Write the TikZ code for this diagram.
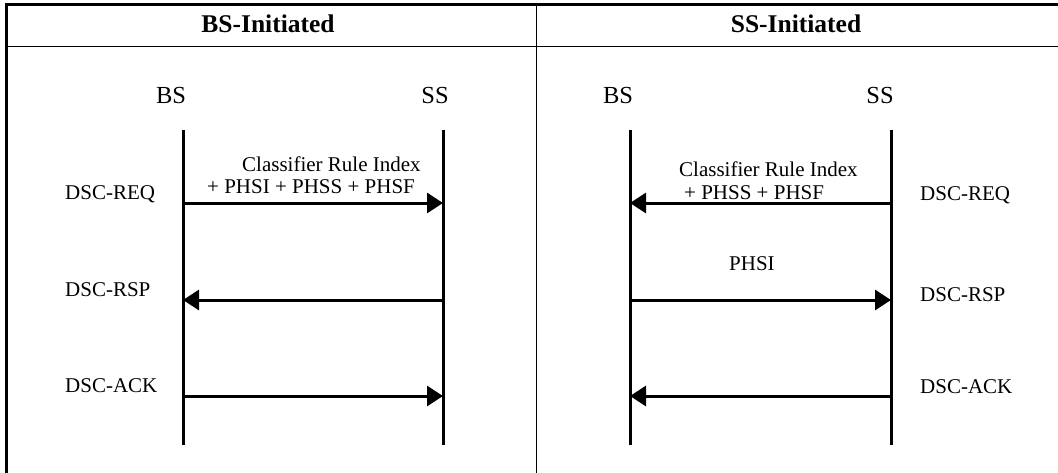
\documentclass[tikz,border=0pt]{standalone}
\usepackage{fontspec}
\setmainfont{Liberation Serif}
\usetikzlibrary{arrows.meta}

\tikzset{
  frame/.style={line width=3pt},
  grid/.style={line width=1pt},
  lifeline/.style={line width=3pt},
  msg/.style={line width=3pt, -{Triangle[length=16pt,width=20pt]}},
  head/.style={inner sep=0pt, anchor=base, font=\fontsize{25.5}{27}\selectfont\bfseries},
  entity/.style={inner sep=0pt, anchor=base, font=\fontsize{24.5}{26}\selectfont},
  lbl/.style={inner sep=0pt, anchor=base west, font=\fontsize{21}{22}\selectfont},
}

\begin{document}
\begin{tikzpicture}[x=1pt, y=-1pt]
\useasboundingbox (0,0) rectangle (1058,472);

% table frame
\draw[frame] (6.5,474) -- (6.5,4.5) -- (1062,4.5);
\draw[grid] (8,46) -- (1060,46);
\draw[grid] (536,6) -- (536,474);

% column headings
\node[head] (hl) at (268,32) {BS-Initiated};
\node[head] (hr) at (796,32) {SS-Initiated};

% lifeline end points
\coordinate (lbsT) at (183,130);  \coordinate (lbsB) at (183,445);
\coordinate (lssT) at (443,130);  \coordinate (lssB) at (443,445);
\coordinate (rbsT) at (630,130);  \coordinate (rbsB) at (630,445);
\coordinate (rssT) at (891,130);  \coordinate (rssB) at (891,445);

% entity names
\node[entity] (lbs) at (171,103) {BS};
\node[entity] (lss) at (435,103) {SS};
\node[entity] (rbs) at (618,103) {BS};
\node[entity] (rss) at (880,103) {SS};

% lifelines
\draw[lifeline] (lbsT) -- (lbsB);
\draw[lifeline] (lssT) -- (lssB);
\draw[lifeline] (rbsT) -- (rbsB);
\draw[lifeline] (rssT) -- (rssB);

% message anchor points
\coordinate (lbs1) at (lbsT |- 0,203); \coordinate (lss1) at (lssT |- 0,203);
\coordinate (lbs2) at (lbsT |- 0,300); \coordinate (lss2) at (lssT |- 0,300);
\coordinate (lbs3) at (lbsT |- 0,396); \coordinate (lss3) at (lssT |- 0,396);
\coordinate (rbs1) at (rbsT |- 0,203); \coordinate (rss1) at (rssT |- 0,203);
\coordinate (rbs2) at (rbsT |- 0,300); \coordinate (rss2) at (rssT |- 0,300);
\coordinate (rbs3) at (rbsT |- 0,396); \coordinate (rss3) at (rssT |- 0,396);

% BS-initiated exchange
\draw[msg] (lbs1) -- (lss1);
\draw[msg] (lss2) -- (lbs2);
\draw[msg] (lbs3) -- (lss3);

% SS-initiated exchange
\draw[msg] (rss1) -- (rbs1);
\draw[msg] (rbs2) -- (rss2);
\draw[msg] (rss3) -- (rbs3);

% message names
\node[lbl] (lreq) at (65,199) {DSC-REQ};
\node[lbl] (lrsp) at (65,296) {DSC-RSP};
\node[lbl] (lack) at (65,392) {DSC-ACK};
\node[lbl] (rreq) at (920,200) {DSC-REQ};
\node[lbl] (rrsp) at (920,301) {DSC-RSP};
\node[lbl] (rack) at (920,393) {DSC-ACK};

% message parameters
\node[lbl] (lp1) at (242,171.5) {Classifier Rule Index};
\node[lbl] (lp2) at (207,193.5) {+ PHSI + PHSS + PHSF};
\node[lbl] (rp1) at (679,176.5) {Classifier Rule Index};
\node[lbl] (rp2) at (684,199) {+ PHSS + PHSF};
\node[lbl] (rp3) at (729,270.5) {PHSI};
\end{tikzpicture}
\end{document}
